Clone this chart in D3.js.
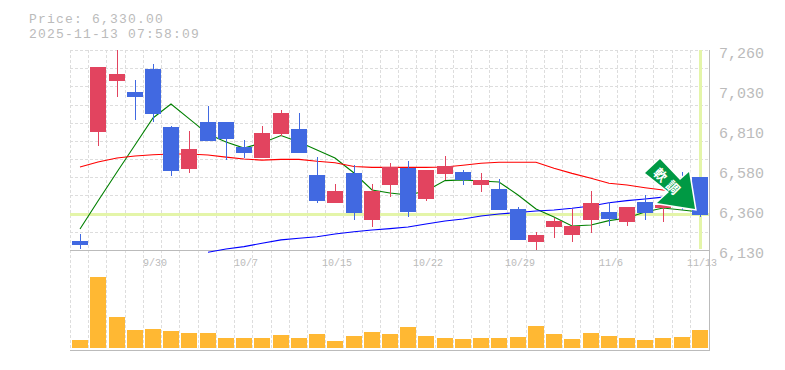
<!DOCTYPE html>
<html>
<head>
<meta charset="utf-8">
<script src="https://cdn.jsdelivr.net/npm/d3@7"></script>
<style>
body { margin: 0; background: #fff; }
text { font-family: "Liberation Mono", "DejaVu Sans Mono", monospace; fill: #bbb; }
</style>
</head>
<body>
<script>
var dates = ["9/24","9/25","9/26","9/29","9/30","10/1","10/2","10/3","10/6","10/7","10/8","10/9","10/10","10/14","10/15","10/16","10/17","10/20","10/21","10/22","10/23","10/24","10/27","10/28","10/29","10/30","10/31","11/4","11/5","11/6","11/7","11/10","11/11","11/12","11/13"];
var dateLabels = ["9/30","10/7","10/15","10/22","10/29","11/6","11/13"];

var opens  = [6181,6797,7085,7023,7153,6825,6588,6853,6853,6712,6650,6785,6814,6554,6396,6565,6300,6497,6593,6418,6559,6571,6497,6475,6362,6175,6260,6215,6300,6345,6288,6401,6367,6469,6542];
var highs  = [6220,7164,7260,7090,7181,6830,6802,6944,6853,6752,6831,6921,6904,6655,6503,6610,6503,6622,6633,6582,6661,6582,6565,6531,6373,6232,6311,6362,6463,6401,6373,6441,6412,6571,6542];
var lows   = [6137,6719,6994,6864,6853,6550,6567,6746,6639,6650,6650,6774,6678,6396,6396,6300,6260,6429,6316,6407,6526,6497,6458,6356,6187,6130,6198,6175,6226,6266,6266,6300,6288,6356,6316];
var closes = [6158,7164,7124,6994,6898,6578,6701,6746,6757,6678,6791,6904,6678,6407,6463,6339,6463,6597,6345,6582,6605,6526,6526,6356,6187,6215,6294,6266,6396,6305,6373,6339,6384,6384,6330];
var volumes = [8,71,31,18,19,17,15,15,10,10,10,13,10,14,7,12,16,14,21,12,10,9,10,10,11,22,14,9,15,12,10,8,10,11,18];

var ma5  = [6249,6407,6571,6723,6876,6955,6872,6785,6740,6706,6735,6777,6740,6695,6650,6565,6469,6452,6441,6463,6522,6526,6520,6514,6441,6362,6316,6266,6271,6296,6311,6345,6367,6356,6345];
var ma25 = [6599,6627,6650,6661,6668,6672,6672,6667,6655,6644,6638,6642,6642,6631,6623,6602,6597,6597,6597,6597,6599,6609,6620,6626,6626,6626,6592,6563,6535,6507,6497,6482,6469,6463,6458];
var ma75 = [null,null,null,null,null,null,null,6117,6136,6149,6168,6187,6196,6205,6220,6233,6243,6251,6260,6277,6294,6305,6322,6333,6342,6350,6356,6366,6379,6397,6409,6418,6429,6441,6452];

var priceTicks = [6130,6356,6582,6808,7034,7260];
var priceLabels = ["6,130","6,360","6,580","6,810","7,030","7,260"];
var lastPrice = 6330;
var title1 = "Price: 6,330.00";
var title2 = "2025-11-13 07:58:09";
var badge = ["軟","調"];

var width = 785, height = 370;
var left = 71, right = 709, top_ = 50, bottom = 250;

var svg = d3.select("body").append("svg")
    .attr("width", width)
    .attr("height", height)
    .style("display", "block");

var x = d3.scaleBand().domain(dates).range([left, right]).paddingInner(0.12).paddingOuter(0.06);
var y = d3.scaleLinear().domain([6130, 7260]).range([bottom, top_]);
var yVol = d3.scaleLinear().domain([0, 71]).range([348, 277]);

function cx(i) { return Math.round(x(dates[i]) + x.bandwidth() / 2); }

// grid
var grid = svg.append("g")
    .attr("stroke", "#ddd")
    .attr("stroke-dasharray", "3,2")
    .attr("shape-rendering", "crispEdges");

grid.selectAll("line.v").data(dates).enter().append("line")
    .attr("class", "v")
    .attr("x1", function(d) { return Math.round(x(d) - x.step() * 0.06 - 1) + 0.5; })
    .attr("x2", function(d) { return Math.round(x(d) - x.step() * 0.06 - 1) + 0.5; })
    .attr("y1", top_)
    .attr("y2", 350);

grid.selectAll("line.h").data(d3.range(1, 12)).enter().append("line")
    .attr("class", "h")
    .attr("x1", 70)
    .attr("x2", 709)
    .attr("y1", function(d) { return Math.round(bottom - d * (bottom - top_) / 11) + 0.5; })
    .attr("y2", function(d) { return Math.round(bottom - d * (bottom - top_) / 11) + 0.5; });

// current price and date markers
svg.append("line")
    .attr("x1", 70).attr("x2", 709)
    .attr("y1", y(lastPrice)).attr("y2", y(lastPrice))
    .attr("stroke", "#e4f5a9").attr("stroke-width", 3)
    .attr("shape-rendering", "crispEdges");
svg.append("line")
    .attr("x1", cx(34)).attr("x2", cx(34))
    .attr("y1", top_).attr("y2", 249)
    .attr("stroke", "#e4f5a9").attr("stroke-width", 3)
    .attr("shape-rendering", "crispEdges");

// frame
svg.append("path")
    .attr("d", "M70,250.5H710 M70,350.5H710 M709.5,50V351")
    .attr("fill", "none")
    .attr("stroke", "#bbb")
    .attr("stroke-width", 1);

// moving averages
function maLine(vals, color) {
    var line = d3.line()
        .defined(function(d) { return d != null; })
        .x(function(d, i) { return cx(i); })
        .y(function(d) { return y(d); });
    svg.append("path")
        .attr("d", line(vals))
        .attr("fill", "none")
        .attr("stroke", color)
        .attr("stroke-width", 1.1);
}
maLine(ma5, "#008000");
maLine(ma25, "#ff0000");
maLine(ma75, "#0000ff");

// candles
var upColor = "#e2445f", downColor = "#4169e1";
function candleColor(i) { return closes[i] >= opens[i] ? upColor : downColor; }

var candles = svg.append("g").attr("shape-rendering", "crispEdges");

candles.selectAll("line").data(dates).enter().append("line")
    .attr("x1", function(d, i) { return cx(i) + 0.5; })
    .attr("x2", function(d, i) { return cx(i) + 0.5; })
    .attr("y1", function(d, i) { return y(highs[i]); })
    .attr("y2", function(d, i) { return y(lows[i]); })
    .attr("stroke", function(d, i) { return candleColor(i); });

candles.selectAll("rect").data(dates).enter().append("rect")
    .attr("x", function(d, i) { return cx(i) - 8; })
    .attr("width", 16)
    .attr("y", function(d, i) { return y(Math.max(opens[i], closes[i])); })
    .attr("height", function(d, i) { return Math.abs(y(opens[i]) - y(closes[i])); })
    .attr("fill", function(d, i) { return candleColor(i); });

// volume
svg.append("g").attr("shape-rendering", "crispEdges")
    .selectAll("rect").data(volumes).enter().append("rect")
    .attr("x", function(d, i) { return cx(i) - 8; })
    .attr("width", 16)
    .attr("y", function(d) { return yVol(d); })
    .attr("height", function(d) { return yVol(0) - yVol(d); })
    .attr("fill", "#ffb833");

// axes text
svg.selectAll("text.price").data(priceTicks).enter().append("text")
    .attr("class", "price")
    .attr("x", 719)
    .attr("y", function(d) { return y(d) + 8; })
    .attr("font-size", 15)
    .text(function(d, i) { return priceLabels[i]; });

svg.selectAll("text.date").data(dateLabels).enter().append("text")
    .attr("class", "date")
    .attr("x", function(d) { return cx(dates.indexOf(d)) + 2; })
    .attr("y", 266)
    .attr("text-anchor", "middle")
    .attr("font-size", 10)
    .text(function(d) { return d; });

svg.append("text").attr("x", 29).attr("y", 23).attr("font-size", 13).attr("letter-spacing", 1.2).text(title1);
svg.append("text").attr("x", 29).attr("y", 38).attr("font-size", 13).attr("letter-spacing", 1.2).text(title2);

// arrow badge
svg.append("path")
    .attr("d", "M660,159L680,180L689,172L695,209L657,203L669,192L645,173Z")
    .attr("fill", "#009944")
    .attr("stroke", "#fff")
    .attr("stroke-width", 3)
    .attr("paint-order", "stroke");

svg.selectAll("text.badge").data(badge).enter().append("text")
    .attr("class", "badge")
    .attr("transform", function(d, i) { return "translate(" + (660.5 + i * 12.5) + "," + (175 + i * 12.5) + ") rotate(45)"; })
    .attr("text-anchor", "middle")
    .attr("dy", "0.36em")
    .attr("font-size", 13)
    .attr("font-weight", "bold")
    .style("font-family", '"Noto Sans CJK JP"')
    .style("fill", "#fff")
    .text(function(d) { return d; });
</script>
</body>
</html>
